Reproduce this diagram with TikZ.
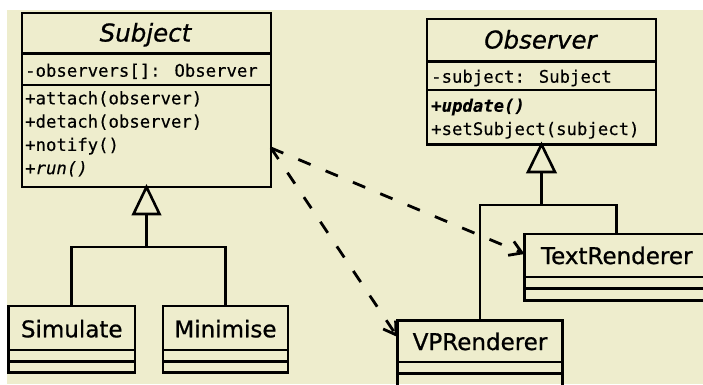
\documentclass[tikz,border=0pt]{standalone}
\usepackage{fontspec}
\setmainfont{DejaVu Sans}
\newfontfamily\umlmono{DejaVu Sans Mono}[FakeBold=0.3]
\newfontfamily\umltitle{DejaVu Sans}[FakeBold=0.8]
\usetikzlibrary{arrows.meta,calc}
\definecolor{cream}{RGB}{238,237,205}
\begin{document}
\begin{tikzpicture}[x=1pt,y=-1pt,
  classbox/.style={draw, line width=2.8pt, rectangle, inner sep=0pt, outer sep=0pt},
  sepline/.style={line width=2.4pt},
  title/.style={anchor=base, inner sep=0pt, font=\umltitle\fontsize{23}{28}\selectfont},
  abstitle/.style={anchor=base, inner sep=0pt, font=\umltitle\itshape\fontsize{24.5}{29}\selectfont},
  member/.style={anchor=base west, inner sep=0pt, font=\umlmono\fontsize{17.3}{20}\selectfont},
  gen/.style={line width=2.6pt},
  dep/.style={line width=2.8pt, dash pattern=on 13.3pt off 16.3pt, -{Straight Barb[length=12pt,width=15pt]}},
]
\useasboundingbox (0,0) rectangle (703,384);
\fill[white] (0,0) rectangle (703,384);
\fill[cream] (7,10) rectangle (703,384);
\clip (0,0) rectangle (703,384);

% Subject
\node[classbox, minimum width=249, minimum height=174] (subject) at (146.5,100) {};
\draw[sepline] ($(subject.north west)+(0,40.3)$) -- ($(subject.north east)+(0,40.3)$);
\draw[sepline] ($(subject.north west)+(0,71.7)$) -- ($(subject.north east)+(0,71.7)$);
\node[abstitle] (subjectT) at (145.5,41.5) {Subject};
\node[member] (sa1) at (25,76.7) {-observers[]: Observer};
\node[member] (sm1) at (25,104.3) {+attach(observer)};
\node[member] (sm2) at (25,127.6) {+detach(observer)};
\node[member] (sm3) at (25,150.9) {+notify()};
\node[member] (sm4) at (25,174.2) {\itshape +run()};

% Observer
\node[classbox, minimum width=229, minimum height=125.5] (observer) at (541.5,81.75) {};
\draw[sepline] ($(observer.north west)+(0,42.5)$) -- ($(observer.north east)+(0,42.5)$);
\draw[sepline] ($(observer.north west)+(0,71)$) -- ($(observer.north east)+(0,71)$);
\node[abstitle] (observerT) at (540.5,48.5) {Observer};
\node[member] (oa1) at (431,82.7) {-subject: Subject};
\node[member] (om1) at (431,111.7) {\bfseries\itshape +update()};
\node[member] (om2) at (431,135) {+setSubject(subject)};

% Simulate
\node[classbox, minimum width=126.5, minimum height=66.5] (simulate) at (71.75,339.25) {};
\draw[sepline] ($(simulate.north west)+(0,44)$) -- ($(simulate.north east)+(0,44)$);
\draw[sepline] ($(simulate.north west)+(0,55.3)$) -- ($(simulate.north east)+(0,55.3)$);
\node[title] (simulateT) at (71.75,337.3) {Simulate};

% Minimise
\node[classbox, minimum width=125, minimum height=66.5] (minimise) at (225.5,339.25) {};
\draw[sepline] ($(minimise.north west)+(0,44)$) -- ($(minimise.north east)+(0,44)$);
\draw[sepline] ($(minimise.north west)+(0,55.3)$) -- ($(minimise.north east)+(0,55.3)$);
\node[title] (minimiseT) at (225.5,337.3) {Minimise};

% TextRenderer
\node[classbox, minimum width=184.5, minimum height=66.5] (textrenderer) at (616.75,267.25) {};
\draw[sepline] ($(textrenderer.north west)+(0,43)$) -- ($(textrenderer.north east)+(0,43)$);
\draw[sepline] ($(textrenderer.north west)+(0,54.3)$) -- ($(textrenderer.north east)+(0,54.3)$);
\node[title] (textrendererT) at (616.75,264) {TextRenderer};

% VPRenderer
\node[classbox, minimum width=165, minimum height=89.5] (vprenderer) at (480,365.25) {};
\draw[sepline] ($(vprenderer.north west)+(0,41.7)$) -- ($(vprenderer.north east)+(0,41.7)$);
\draw[sepline] ($(vprenderer.north west)+(0,53)$) -- ($(vprenderer.north east)+(0,53)$);
\node[title] (vprendererT) at (480,350) {VPRenderer};

% generalisation: Subject
\draw[gen] (subject.south) -- ++(13,27) -- ++(-26,0) -- cycle;
\coordinate (sj) at ($(subject.south)+(0,60)$);
\draw[gen] ($(subject.south)+(0,27)$) -- (sj);
\draw[gen] (simulate.north) |- (sj) -| (minimise.north);

% generalisation: Observer
\draw[gen] (observer.south) -- ++(13.5,27.5) -- ++(-27,0) -- cycle;
\coordinate (oj) at ($(observer.south)+(0,60.5)$);
\draw[gen] ($(observer.south)+(0,27.5)$) -- (oj);
\draw[gen] (vprenderer.north) |- (oj) -| (textrenderer.north);

% dependencies
\coordinate (s) at ($(subject.north east)+(0,135)$);
\coordinate (tt) at ($(textrenderer.north west)+(0,20)$);
\coordinate (vt) at ($(vprenderer.north west)+(0,16.5)$);
\draw[dep] (s) -- (tt);
\draw[dep] (s) -- (vt);
\end{tikzpicture}
\end{document}
